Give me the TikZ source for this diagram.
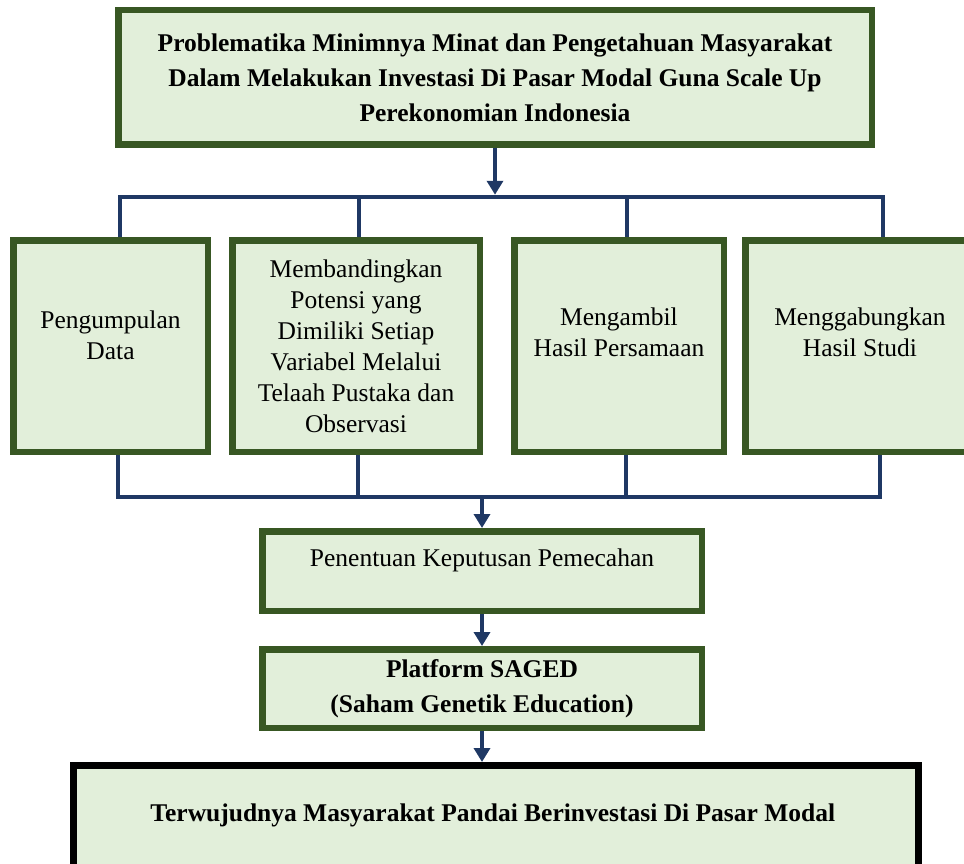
\documentclass[tikz,border=0pt]{standalone}
\usepackage{fontspec}
\setmainfont{Liberation Serif}
\usetikzlibrary{arrows.meta}

\definecolor{boxgreen}{RGB}{56,87,35}
\definecolor{boxfill}{RGB}{226,239,218}
\definecolor{linkblue}{RGB}{31,56,100}

\begin{document}
\begin{tikzpicture}[x=1pt,y=-1pt,
    stage/.style={rectangle,draw=boxgreen,fill=boxfill,line width=6.5pt,inner sep=0pt},
    goal/.style={rectangle,draw=black,fill=boxfill,line width=7pt,inner sep=0pt},
    steptext/.style={align=center,inner sep=0pt,font=\fontsize{25.5}{31}\selectfont},
    boldtext/.style={align=center,inner sep=0pt,font=\fontsize{25.5}{35}\selectfont\bfseries},
    link/.style={draw=linkblue,line width=4.5pt},
    flow/.style={link,-{Triangle[length=14pt,width=16pt]}}
    ]

    \useasboundingbox (0,0) rectangle (964,864);
    \clip (0,0) rectangle (964,864);

    % boxes
    \node (problem) [stage,minimum width=753.5pt,minimum height=134.5pt] at (495,77.5) {};
    \node (collect) [stage,minimum width=194.5pt,minimum height=211.5pt] at (110.5,346) {};
    \node (compare) [stage,minimum width=247.5pt,minimum height=211.5pt] at (356,346) {};
    \node (equate) [stage,minimum width=209.5pt,minimum height=211.5pt] at (619,346) {};
    \node (combine) [stage,minimum width=229.5pt,minimum height=211.5pt] at (860,346) {};
    \node (decide) [stage,minimum width=439.5pt,minimum height=79.5pt] at (482,571) {};
    \node (platform) [stage,minimum width=439.5pt,minimum height=78.5pt] at (482,688.5) {};
    \node (outcome) [goal,minimum width=845pt,minimum height=116pt] at (496,823.5) {};

    % texts
    \node (problemtxt) [boldtext] at (problem) {
      Problematika Minimnya Minat dan Pengetahuan Masyarakat\\
      Dalam Melakukan Investasi Di Pasar Modal Guna Scale Up\\
      Perekonomian Indonesia
    };
    \node (collecttxt) [steptext,yshift=11pt] at (collect) {Pengumpulan\\Data};
    \node (comparetxt) [steptext] at (compare) {
      Membandingkan\\Potensi yang\\Dimiliki Setiap\\Variabel Melalui\\Telaah Pustaka dan\\Observasi
    };
    \node (equatetxt) [steptext,yshift=14pt] at (equate) {Mengambil\\Hasil Persamaan};
    \node (combinetxt) [steptext,yshift=14pt] at (combine) {Menggabungkan\\Hasil Studi};
    \node (decidetxt) [steptext,yshift=11pt] at (decide) {Penentuan Keputusan Pemecahan};
    \node (platformtxt) [boldtext] at (platform) {Platform SAGED\\(Saham Genetik Education)};
    \node (outcometxt) [boldtext,yshift=8.5pt] at (outcome) {
      Terwujudnya Masyarakat Pandai Berinvestasi Di Pasar Modal
    };

    % split bus
    \coordinate (topbus) at (495,197);
    \coordinate (splitA) at (120,197);
    \coordinate (splitB) at (359,197);
    \coordinate (splitC) at (627,197);
    \coordinate (splitD) at (883,197);

    \draw[flow,shorten >=2.25pt] (problem.south) -- (topbus);
    \draw[link] (collect.north -| splitA) -- (splitA) -- (splitD) -- (combine.north -| splitD);
    \draw[link] (splitB) -- (compare.north -| splitB);
    \draw[link] (splitC) -- (equate.north -| splitC);

    % join bus
    \coordinate (joinA) at (118,497);
    \coordinate (joinB) at (358,497);
    \coordinate (joinC) at (626,497);
    \coordinate (joinD) at (880,497);
    \coordinate (joinM) at (482,497);

    \draw[link] (collect.south -| joinA) -- (joinA) -- (joinD) -- (combine.south -| joinD);
    \draw[link] (compare.south -| joinB) -- (joinB);
    \draw[link] (equate.south -| joinC) -- (joinC);

    \draw[flow] (joinM) -- (decide.north);
    \draw[flow] (decide) -- (platform);
    \draw[flow] (platform.south) -- (platform.south |- outcome.north);

  \end{tikzpicture}
\end{document}
